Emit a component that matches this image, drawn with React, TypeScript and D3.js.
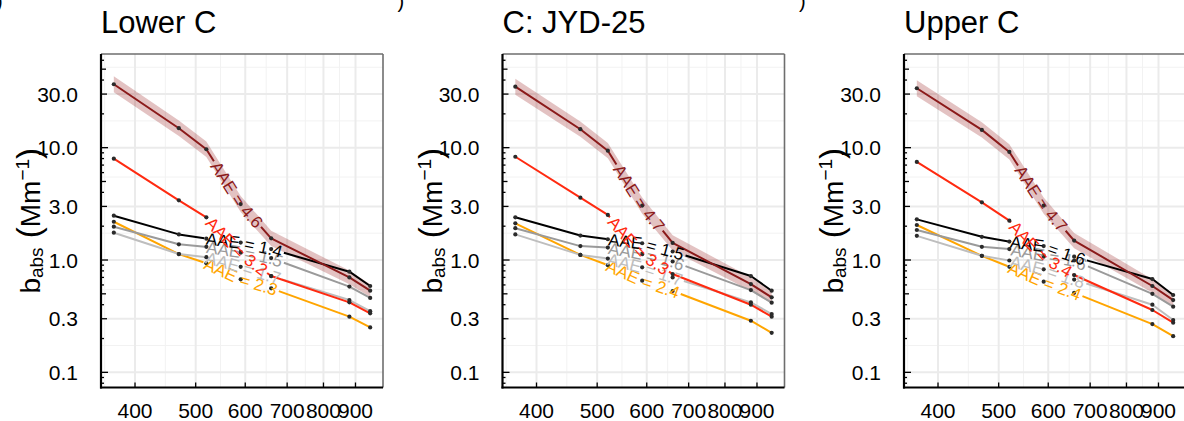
import * as d3 from "d3";

// wavelengths (nm)
const wavelengths = [370, 470, 520, 590, 660, 880, 950];
const panelTitles = ["Lower C", "C: JYD-25", "Upper C"];
const yBreaks = [0.1, 0.3, 1, 3, 10, 30];
const yTickLabels = ["0.1", "0.3", "1.0", "3.0", "10.0", "30.0"];
const xBreaks = [400, 500, 600, 700, 800, 900];
const xTickLabels = ["400", "500", "600", "700", "800", "900"];

// Lower C
const lowerDarkred = [36.7, 14.9, 9.68, 3.15, 1.56, 0.7, 0.533];
const lowerRed = [7.98, 3.4, 2.4, 1.16, 0.72, 0.42, 0.335];
const lowerBlack = [2.48, 1.69, 1.55, 1.43, 1.25, 0.787, 0.587];
const lowerGray = [1.98, 1.38, 1.31, 1.18, 1.04, 0.58, 0.46];
const lowerLightgray = [1.75, 1.13, 1.06, 0.87, 0.72, 0.44, 0.35];
const lowerOrange = [2.19, 1.13, 0.935, 0.673, 0.56, 0.313, 0.251];
const lowerAAE = ["4.6", "3.2", "1.4", "1.5", "1.7", "2.3"];

// C: JYD-25
const jydDarkred = [34.9, 14.6, 9.4, 3.05, 1.42, 0.61, 0.465];
const jydRed = [8.3, 3.59, 2.52, 1.13, 0.75, 0.4, 0.313];
const jydBlack = [2.4, 1.65, 1.53, 1.41, 1.19, 0.72, 0.533];
const jydGray = [1.92, 1.33, 1.29, 1.13, 0.97, 0.54, 0.417];
const jydLightgray = [1.69, 1.11, 1.03, 0.86, 0.7, 0.42, 0.33];
const jydOrange = [2.12, 1.11, 0.9, 0.655, 0.53, 0.288, 0.225];
const jydAAE = ["4.7", "3.3", "1.5", "1.6", "1.7", "2.4"];

// Upper C
const upperDarkred = [33.8, 14.4, 9.16, 3.05, 1.49, 0.587, 0.44];
const upperRed = [7.46, 3.26, 2.24, 1.07, 0.735, 0.359, 0.277];
const upperBlack = [2.3, 1.61, 1.46, 1.33, 1.07, 0.677, 0.488];
const upperGray = [1.85, 1.31, 1.25, 1.1, 0.99, 0.5, 0.384];
const upperLightgray = [1.64, 1.09, 0.99, 0.826, 0.67, 0.4, 0.292];
const upperOrange = [2.05, 1.09, 0.87, 0.641, 0.51, 0.269, 0.21];
const upperAAE = ["4.7", "3.4", "1.6", "1.6", "1.8", "2.4"];

// relative spread of the darkred uncertainty band
const bandFactor = [1.18, 1.17, 1.17, 1.18, 1.17, 1.15, 1.14];

const seriesColors = ["#8B1A1A", "#FF2A10", "#000000", "#9A9A9A", "#BEBEBE", "#FFA500"];

const panels = [
  { title: panelTitles[0], series: [lowerDarkred, lowerRed, lowerBlack, lowerGray, lowerLightgray, lowerOrange], aae: lowerAAE },
  { title: panelTitles[1], series: [jydDarkred, jydRed, jydBlack, jydGray, jydLightgray, jydOrange], aae: jydAAE },
  { title: panelTitles[2], series: [upperDarkred, upperRed, upperBlack, upperGray, upperLightgray, upperOrange], aae: upperAAE },
];

const FONT = "'Liberation Sans', Arial, Helvetica, sans-serif";
const W = 1184;
const H = 421;
const panelOffsets = [0, 401.5, 803];
const plot = { left: 101, right: 383, top: 54, bottom: 387.5 };
const LABEL_SIZE = 17;

const ctx = document.createElement("canvas").getContext("2d");
function textWidth(s: string, size: number) {
  if (!ctx) return s.length * size * 0.5;
  ctx.font = `${size}px 'Liberation Sans', Arial`;
  return ctx.measureText(s).width;
}

// ggplot-style 5% expansion in log space
const xl = d3.extent(wavelengths) as [number, number];
const xPad = Math.log10(xl[1] / xl[0]) * 0.05;
const x = d3
  .scaleLog()
  .domain([xl[0] / Math.pow(10, xPad), xl[1] * Math.pow(10, xPad)])
  .range([plot.left, plot.right]);

const yPad = Math.log10(50 / 0.1) * 0.05;
const y = d3
  .scaleLog()
  .domain([0.1 / Math.pow(10, yPad), 50 * Math.pow(10, yPad)])
  .range([plot.bottom, plot.top]);

// minor grid at geometric midpoints of breaks (extended one step each side)
function minorBreaks(b: number[]) {
  const lb = b.map(Math.log10);
  const d = lb[1] - lb[0];
  const ext = [lb[0] - d, ...lb, lb[lb.length - 1] + d];
  const out: number[] = [];
  for (let i = 0; i < ext.length - 1; i++) out.push(Math.pow(10, (ext[i] + ext[i + 1]) / 2));
  return out;
}

const logTicksY: { v: number; len: number }[] = [];
for (let e = -2; e <= 1; e++) {
  for (let m = 1; m <= 9; m++) {
    const v = m * Math.pow(10, e);
    const [lo, hi] = y.domain();
    if (v < lo || v > hi) continue;
    const len = m === 1 ? 7 : m === 5 ? 5 : yBreaks.includes(+v.toPrecision(3)) ? 6 : 3;
    logTicksY.push({ v, len });
  }
}

const line = d3
  .line<[number, number]>()
  .x((d) => d[0])
  .y((d) => d[1]);

function Panel({ idx }: { idx: number }) {
  const p = panels[idx];
  const ox = panelOffsets[idx];
  const area = d3
    .area<number>()
    .x((_, i) => x(wavelengths[i]))
    .y0((v, i) => y(v / bandFactor[i]))
    .y1((v, i) => y(v * bandFactor[i]));

  const lines = p.series.map((vals, si) => {
    const pts: [number, number][] = vals.map((v, i) => [x(wavelengths[i]), y(v)]);
    let L = 0;
    for (let i = 1; i < pts.length; i++) L += Math.hypot(pts[i][0] - pts[i - 1][0], pts[i][1] - pts[i - 1][1]);
    const label = `AAE = ${p.aae[si]}`;
    const tw = textWidth(label, LABEL_SIZE);
    const gapStart = L / 2 - tw / 2 - 2;
    const gapLen = tw + 4;
    return { pts, L, label, gapStart, gapLen, color: seriesColors[si], id: `path-${idx}-${si}` };
  });

  return (
    <g transform={`translate(${ox},0)`}>
      <text x={plot.left} y={33} fontSize={31} fontFamily={FONT} fill="#000">
        {p.title}
      </text>
      {/* grid */}
      {minorBreaks(yBreaks)
        .filter((v) => v > y.domain()[0] && v < y.domain()[1])
        .map((v, i) => (
          <line key={`ym${i}`} x1={plot.left} x2={plot.right} y1={y(v)} y2={y(v)} stroke="#F2F2F2" strokeWidth={1} />
        ))}
      {minorBreaks(xBreaks)
        .filter((v) => v > x.domain()[0] && v < x.domain()[1])
        .map((v, i) => (
          <line key={`xm${i}`} x1={x(v)} x2={x(v)} y1={plot.top} y2={plot.bottom} stroke="#F2F2F2" strokeWidth={1} />
        ))}
      {yBreaks.map((v, i) => (
        <line key={`yg${i}`} x1={plot.left} x2={plot.right} y1={y(v)} y2={y(v)} stroke="#EBEBEB" strokeWidth={2} />
      ))}
      {xBreaks.map((v, i) => (
        <line key={`xg${i}`} x1={x(v)} x2={x(v)} y1={plot.top} y2={plot.bottom} stroke="#EBEBEB" strokeWidth={2} />
      ))}
      {/* border: top/right grey, left/bottom black */}
      <line x1={plot.left} x2={plot.right} y1={plot.top} y2={plot.top} stroke="#6E6E6E" strokeWidth={1.6} />
      <line x1={plot.right} x2={plot.right} y1={plot.top} y2={plot.bottom} stroke="#6E6E6E" strokeWidth={1.6} />

      {/* darkred uncertainty band */}
      <path d={area(p.series[0]) || ""} fill="#8B0000" fillOpacity={0.24} />

      {/* lines with a gap where the label sits */}
      {lines
        .map((l) => l)
        .reverse()
        .map((l) => (
          <g key={l.id}>
            <path id={l.id} d={line(l.pts) || ""} fill="none" stroke="none" />
            <path
              d={line(l.pts) || ""}
              fill="none"
              stroke={l.color}
              strokeWidth={2}
              strokeLinejoin="round"
              strokeDasharray={`${l.gapStart} ${l.gapLen} ${l.L}`}
            />
          </g>
        ))}
      {lines.map((l) =>
        l.pts.map((pt, j) => <circle key={`${l.id}-${j}`} cx={pt[0]} cy={pt[1]} r={2.1} fill="#2a2a2a" />)
      )}
      {lines
        .map((l) => l)
        .reverse()
        .map((l) => (
          <text key={`t-${l.id}`} fontSize={LABEL_SIZE} fontFamily={FONT} fill={l.color} dominantBaseline="central">
            <textPath href={`#${l.id}`} startOffset="50%" textAnchor="middle">
              {l.label}
            </textPath>
          </text>
        ))}

      {/* axes */}
      <line x1={plot.left} x2={plot.left} y1={plot.top} y2={plot.bottom + 1} stroke="#000" strokeWidth={2.2} />
      <line x1={plot.left - 1} x2={plot.right} y1={plot.bottom} y2={plot.bottom} stroke="#000" strokeWidth={2.2} />
      {logTicksY.map((t, i) => (
        <line key={`lt${i}`} x1={plot.left} x2={plot.left + t.len} y1={y(t.v)} y2={y(t.v)} stroke="#000" strokeWidth={1.3} />
      ))}
      {xBreaks.map((v, i) => (
        <line key={`xt${i}`} x1={x(v)} x2={x(v)} y1={plot.bottom} y2={plot.bottom - 5} stroke="#000" strokeWidth={1.3} />
      ))}
      {yBreaks.map((v, i) => (
        <text key={`yl${i}`} x={78} y={y(v)} textAnchor="end" dominantBaseline="central" fontSize={21} fontFamily={FONT} fill="#000">
          {yTickLabels[i]}
        </text>
      ))}
      {xBreaks.map((v, i) => (
        <text key={`xl${i}`} x={x(v)} y={418} textAnchor="middle" fontSize={21} fontFamily={FONT} fill="#000">
          {xTickLabels[i]}
        </text>
      ))}
      <text transform={`translate(40,${(plot.top + plot.bottom) / 2}) rotate(-90)`} textAnchor="middle" fontSize={28} fontFamily={FONT} fill="#000">
        <tspan>b</tspan>
        <tspan fontSize={19} dy={3}>abs</tspan>
        <tspan fontSize={33} dy={-3}>{" ("}</tspan>
        <tspan>Mm</tspan>
        <tspan fontSize={19} dy={-11}>{"\u22121"}</tspan>
        <tspan fontSize={33} dy={11}>)</tspan>
      </text>
      <text x={-4} y={8} fontSize={20} fontFamily={FONT} fill="#000">
        )
      </text>
    </g>
  );
}

export default function App() {
  return (
    <div style={{ position: "absolute", left: 0, top: 0 }}>
      <svg width={W} height={H} style={{ display: "block", background: "#fff" }}>
        {panels.map((_, i) => (
          <Panel key={i} idx={i} />
        ))}
      </svg>
    </div>
  );
}
